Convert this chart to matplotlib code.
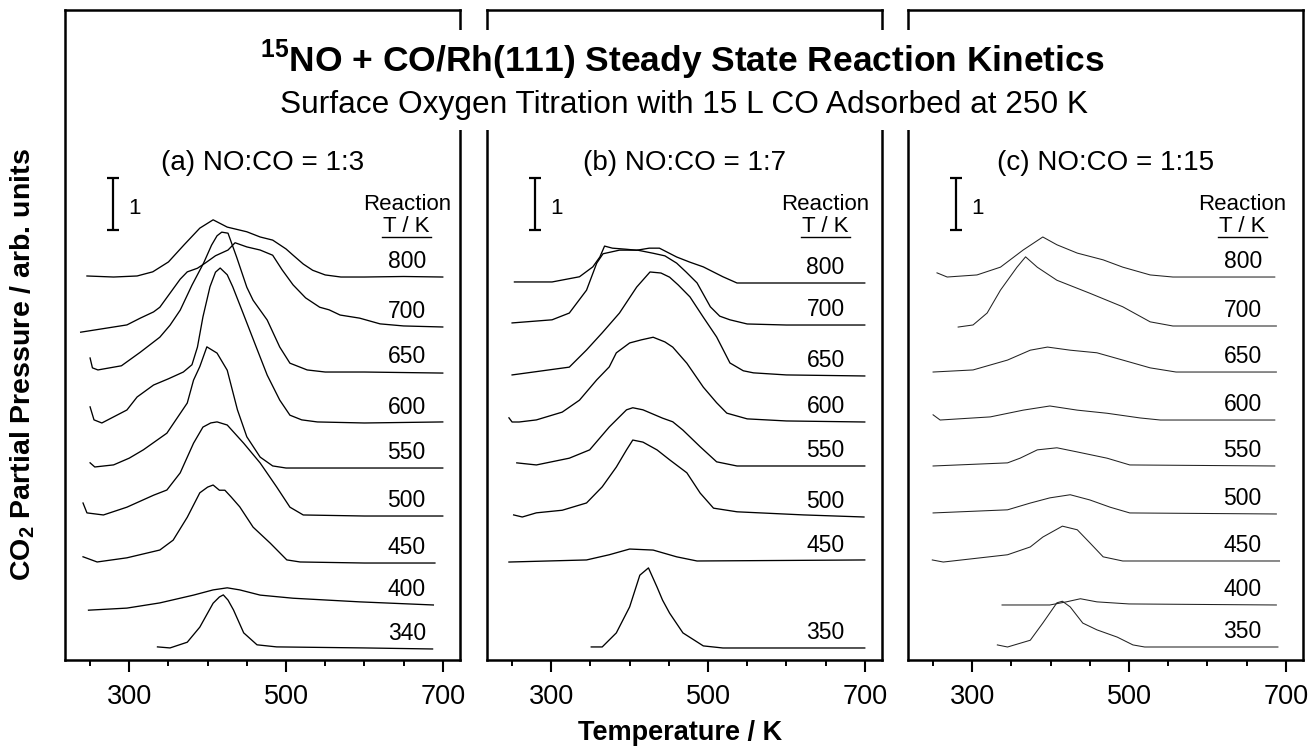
import matplotlib
matplotlib.use("Agg")
import matplotlib.pyplot as plt
from matplotlib.ticker import FixedLocator, MultipleLocator
from matplotlib.patches import Rectangle

plt.rcParams['font.family'] = ['Liberation Sans', 'DejaVu Sans']
plt.rcParams['mathtext.fontset'] = 'custom'
plt.rcParams['mathtext.rm'] = 'Liberation Sans'
plt.rcParams['mathtext.bf'] = 'Liberation Sans:bold'

# ---------------- data (temperature in K, signal in arb. units above baseline) -------------
panel_titles = ["(a) NO:CO = 1:3", "(b) NO:CO = 1:7", "(c) NO:CO = 1:15"]

# ---- panel (a) NO:CO = 1:3 ----
a_labels = ["800", "700", "650", "600", "550", "500", "450", "400", "340"]
a_offsets = [7.365, 6.404, 5.538, 4.558, 3.692, 2.769, 1.865, 1.058, 0.212]
a800_T = [246, 280, 310, 330, 350, 370, 390, 407, 425, 450, 467, 483, 500, 509, 522, 534, 550, 570, 600, 650, 700]
a800_s = [0.02, 0.0, 0.02, 0.10, 0.29, 0.62, 0.94, 1.10, 0.96, 0.87, 0.77, 0.71, 0.54, 0.42, 0.25, 0.13, 0.04, 0.0, 0.0, 0.01, 0.0]
a700_T = [238, 297, 314, 331, 339, 352, 365, 374, 387, 397, 410, 426, 435, 450, 467, 483, 495, 509, 525, 543, 555, 569, 594, 620, 650, 700]
a700_s = [-0.10, 0.04, 0.17, 0.29, 0.38, 0.65, 0.92, 1.06, 1.13, 1.23, 1.37, 1.48, 1.62, 1.54, 1.48, 1.38, 1.10, 0.81, 0.56, 0.38, 0.33, 0.23, 0.17, 0.06, 0.02, 0.0]
a650_T = [250, 253, 260, 290, 314, 339, 352, 365, 380, 395, 405, 412, 418, 426, 437, 450, 458, 476, 492, 505, 527, 550, 600, 700]
a650_s = [0.27, 0.08, 0.04, 0.12, 0.38, 0.67, 0.90, 1.19, 1.67, 2.10, 2.44, 2.62, 2.69, 2.67, 2.21, 1.63, 1.38, 1.00, 0.48, 0.17, 0.04, 0.0, 0.0, -0.02]
a600_T = [250, 255, 265, 297, 310, 331, 350, 369, 380, 387, 394, 403, 410, 416, 425, 432, 445, 462, 476, 492, 505, 520, 540, 600, 700]
a600_s = [0.31, 0.06, 0.0, 0.25, 0.50, 0.73, 0.85, 0.98, 1.12, 1.46, 2.04, 2.62, 2.90, 2.98, 2.85, 2.62, 2.12, 1.46, 0.92, 0.44, 0.15, 0.06, 0.02, 0.0, 0.02]
a550_T = [250, 256, 280, 300, 318, 348, 374, 382, 390, 399, 412, 425, 438, 450, 467, 483, 500, 700]
a550_s = [0.10, 0.02, 0.06, 0.19, 0.35, 0.67, 1.25, 1.69, 1.95, 2.33, 2.21, 1.88, 1.12, 0.60, 0.21, 0.04, 0.0, 0.0]
a500_T = [241, 246, 267, 297, 331, 348, 365, 382, 394, 404, 412, 425, 446, 467, 488, 505, 522, 600, 700]
a500_s = [0.25, 0.06, 0.02, 0.17, 0.40, 0.50, 0.83, 1.40, 1.71, 1.79, 1.81, 1.75, 1.40, 1.02, 0.56, 0.17, 0.02, 0.0, 0.0]
a450_T = [241, 259, 297, 339, 356, 374, 390, 400, 407, 415, 422, 430, 441, 458, 480, 501, 518, 600, 690]
a450_s = [0.12, 0.02, 0.10, 0.25, 0.44, 0.88, 1.35, 1.46, 1.50, 1.40, 1.40, 1.27, 1.08, 0.69, 0.38, 0.06, 0.02, 0.0, 0.0]
a400_T = [248, 297, 339, 382, 407, 425, 441, 467, 509, 594, 688]
a400_s = [-0.10, -0.06, 0.04, 0.19, 0.29, 0.33, 0.29, 0.19, 0.13, 0.06, 0.0]
a340_T = [336, 352, 374, 390, 407, 415, 420, 426, 433, 446, 463, 488, 600, 687]
a340_s = [0.04, 0.02, 0.13, 0.42, 0.88, 1.00, 1.04, 0.94, 0.75, 0.31, 0.08, 0.04, 0.02, 0.0]

# ---- panel (b) NO:CO = 1:7 ----
b_labels = ["800", "700", "650", "600", "550", "500", "450", "350"]
b_offsets = [7.25, 6.442, 5.462, 4.577, 3.731, 2.75, 1.904, 0.231]
b800_T = [253, 301, 336, 353, 362, 368, 378, 395, 409, 425, 438, 460, 477, 494, 519, 537, 600, 700]
b800_s = [0.02, 0.02, 0.12, 0.31, 0.50, 0.71, 0.67, 0.65, 0.63, 0.67, 0.67, 0.50, 0.40, 0.31, 0.12, 0.0, 0.0, 0.0]
b700_T = [250, 301, 323, 345, 358, 366, 387, 410, 430, 445, 460, 472, 486, 503, 515, 528, 550, 600, 700]
b700_s = [0.04, 0.10, 0.23, 0.67, 1.19, 1.37, 1.44, 1.44, 1.38, 1.33, 1.19, 1.02, 0.81, 0.35, 0.17, 0.10, 0.02, 0.0, 0.0]
b650_T = [250, 323, 345, 365, 387, 409, 426, 440, 451, 462, 477, 494, 511, 528, 545, 558, 600, 700]
b650_s = [0.02, 0.17, 0.50, 0.83, 1.21, 1.71, 2.00, 1.98, 1.90, 1.75, 1.52, 1.13, 0.75, 0.25, 0.10, 0.06, 0.02, 0.0]
b600_T = [246, 250, 259, 281, 314, 336, 358, 374, 383, 400, 415, 430, 445, 455, 473, 494, 511, 524, 550, 600, 700]
b600_s = [0.08, 0.0, 0.0, 0.04, 0.19, 0.42, 0.81, 1.06, 1.33, 1.52, 1.58, 1.63, 1.54, 1.44, 1.13, 0.67, 0.37, 0.17, 0.06, 0.02, 0.0]
b550_T = [256, 281, 323, 349, 374, 396, 404, 417, 442, 455, 468, 490, 511, 537, 700]
b550_s = [0.06, 0.02, 0.15, 0.31, 0.75, 1.08, 1.12, 1.08, 0.92, 0.85, 0.69, 0.37, 0.08, 0.0, 0.0]
b500_T = [252, 263, 281, 314, 345, 365, 383, 396, 404, 417, 435, 451, 473, 490, 507, 537, 622, 699]
b500_s = [0.04, 0.0, 0.08, 0.13, 0.27, 0.58, 0.96, 1.29, 1.48, 1.44, 1.29, 1.10, 0.85, 0.46, 0.17, 0.10, 0.04, 0.0]
b450_T = [246, 345, 374, 400, 430, 460, 486, 700]
b450_s = [-0.02, 0.02, 0.12, 0.23, 0.21, 0.08, 0.0, 0.02]
b350_T = [351, 365, 383, 400, 413, 424, 435, 442, 451, 468, 494, 519, 700]
b350_s = [0.02, 0.02, 0.29, 0.79, 1.40, 1.54, 1.17, 0.92, 0.67, 0.29, 0.04, 0.0, 0.0]

# ---- panel (c) NO:CO = 1:15 ----
c_labels = ["800", "700", "650", "600", "550", "500", "450", "400", "350"]
c_offsets = [7.365, 6.423, 5.538, 4.615, 3.731, 2.808, 1.904, 1.058, 0.25]
c800_T = [255, 268, 306, 336, 365, 390, 408, 434, 467, 492, 527, 556, 686]
c800_s = [0.08, 0.0, 0.04, 0.19, 0.52, 0.77, 0.62, 0.46, 0.33, 0.19, 0.04, 0.0, 0.0]
c700_T = [282, 301, 319, 336, 357, 368, 383, 408, 450, 492, 527, 556, 688]
c700_s = [-0.02, 0.02, 0.25, 0.69, 1.13, 1.33, 1.13, 0.88, 0.63, 0.37, 0.08, 0.0, 0.0]
c650_T = [250, 301, 345, 374, 396, 425, 459, 492, 527, 560, 688]
c650_s = [0.0, 0.04, 0.23, 0.42, 0.48, 0.42, 0.37, 0.23, 0.08, 0.0, 0.0]
c600_T = [250, 259, 323, 365, 399, 434, 472, 514, 540, 686]
c600_s = [0.10, 0.0, 0.06, 0.19, 0.27, 0.19, 0.13, 0.04, 0.0, 0.0]
c550_T = [250, 345, 361, 383, 408, 434, 472, 501, 686]
c550_s = [0.0, 0.06, 0.15, 0.31, 0.35, 0.27, 0.15, 0.02, 0.0]
c500_T = [250, 345, 374, 399, 425, 450, 476, 501, 688]
c500_s = [0.02, 0.08, 0.21, 0.31, 0.37, 0.27, 0.13, 0.02, 0.0]
c450_T = [249, 263, 345, 374, 390, 415, 434, 450, 467, 492, 692]
c450_s = [0.02, -0.02, 0.12, 0.27, 0.46, 0.67, 0.60, 0.35, 0.08, 0.0, 0.0]
c400_T = [338, 399, 420, 438, 459, 500, 688]
c400_s = [0.0, 0.0, 0.06, 0.12, 0.06, 0.02, 0.0]
c350_T = [332, 345, 374, 390, 408, 415, 425, 441, 459, 485, 505, 520, 690]
c350_s = [0.04, 0.0, 0.13, 0.46, 0.85, 0.88, 0.77, 0.46, 0.33, 0.19, 0.04, 0.0, 0.0]

major_ticks = [300, 500, 700]
tick_labels = ["300", "500", "700"]

# ---------------- figure ----------------
W, H = 1312, 748
fig = plt.figure(figsize=(W / 100, H / 100), dpi=100)

panel_left_px = [65, 487, 908]
ax_w_px, ax_bottom_px, ax_h_px = 395, 88, 650

panels = [
    (a_labels, a_offsets, [(a800_T, a800_s), (a700_T, a700_s), (a650_T, a650_s), (a600_T, a600_s),
                           (a550_T, a550_s), (a500_T, a500_s), (a450_T, a450_s), (a400_T, a400_s),
                           (a340_T, a340_s)], 654, 'black', 0.95),
    (b_labels, b_offsets, [(b800_T, b800_s), (b700_T, b700_s), (b650_T, b650_s), (b600_T, b600_s),
                           (b550_T, b550_s), (b500_T, b500_s), (b450_T, b450_s), (b350_T, b350_s)],
     650, 'black', 0.95),
    (c_labels, c_offsets, [(c800_T, c800_s), (c700_T, c700_s), (c650_T, c650_s), (c600_T, c600_s),
                           (c550_T, c550_s), (c500_T, c500_s), (c450_T, c450_s), (c400_T, c400_s),
                           (c350_T, c350_s)], 645, '#222222', 0.75),
]

for i, (labels, offsets, traces, lab_x, col, lw) in enumerate(panels):
    ax = fig.add_axes([panel_left_px[i] / W, ax_bottom_px / H, ax_w_px / W, ax_h_px / H])
    ax.set_xlim(218, 722)
    ax.set_ylim(0, 12.5)
    for (T, s), off, lab in zip(traces, offsets, labels):
        ax.plot(T, [off + v for v in s], color=col, lw=lw, solid_joinstyle='round')
        ax.text(lab_x, off + 0.17, lab, ha='center', va='baseline', fontsize=16.5)
    # header
    ax.text(lab_x, 8.65, "Reaction", ha='center', va='baseline', fontsize=16)
    ax.text(lab_x, 8.23, "T / K", ha='center', va='baseline', fontsize=16)
    ax.plot([lab_x - 31, lab_x + 31], [8.14, 8.14], color='black', lw=1.0)
    ax.text(470, 9.42, panel_titles[i], ha='center', va='baseline', fontsize=20)
    # scale bar (1 unit)
    ax.errorbar([279], [8.77], yerr=[0.5], color='black', lw=1.6, capsize=4.5, capthick=1.6)
    ax.text(307, 8.69, "1", ha='center', va='center', fontsize=16)
    # axes styling
    ax.yaxis.set_visible(False)
    ax.xaxis.set_major_locator(FixedLocator(major_ticks))
    ax.set_xticklabels(tick_labels)
    ax.xaxis.set_minor_locator(MultipleLocator(50))
    ax.tick_params(axis='x', which='major', direction='out', length=8.6, width=1.5,
                   labelsize=19.5, pad=9)
    ax.tick_params(axis='x', which='minor', direction='out', length=4.2, width=1.4)
    ax.tick_params(axis='x', top=False)
    for sp in ax.spines.values():
        sp.set_linewidth(1.8)

# white band behind the title, breaking the frames
fig.patches.append(Rectangle((250 / W, 1 - 130 / H), 862 / W, 100 / H,
                             transform=fig.transFigure, facecolor='white',
                             edgecolor='none', zorder=5))

fig.text(682 / W, 1 - 72 / H,
         r"$^{\mathbf{15}}$NO + CO/Rh(111) Steady State Reaction Kinetics",
         ha='center', va='baseline', fontsize=25.5, fontweight='bold', zorder=6)
fig.text(684 / W, 1 - 113 / H,
         "Surface Oxygen Titration with 15 L CO Adsorbed at 250 K",
         ha='center', va='baseline', fontsize=22.8, zorder=6)

fig.text(680 / W, 1 - 733 / H, "Temperature / K", ha='center', va='center',
         fontsize=19.5, fontweight='bold')
fig.text(23 / W, 1 - 365 / H, r"CO$_{\mathbf{2}}$ Partial Pressure / arb. units",
         ha='center', va='center', rotation=90, fontsize=20.5, fontweight='bold')

fig.savefig("out.png", dpi=100)
